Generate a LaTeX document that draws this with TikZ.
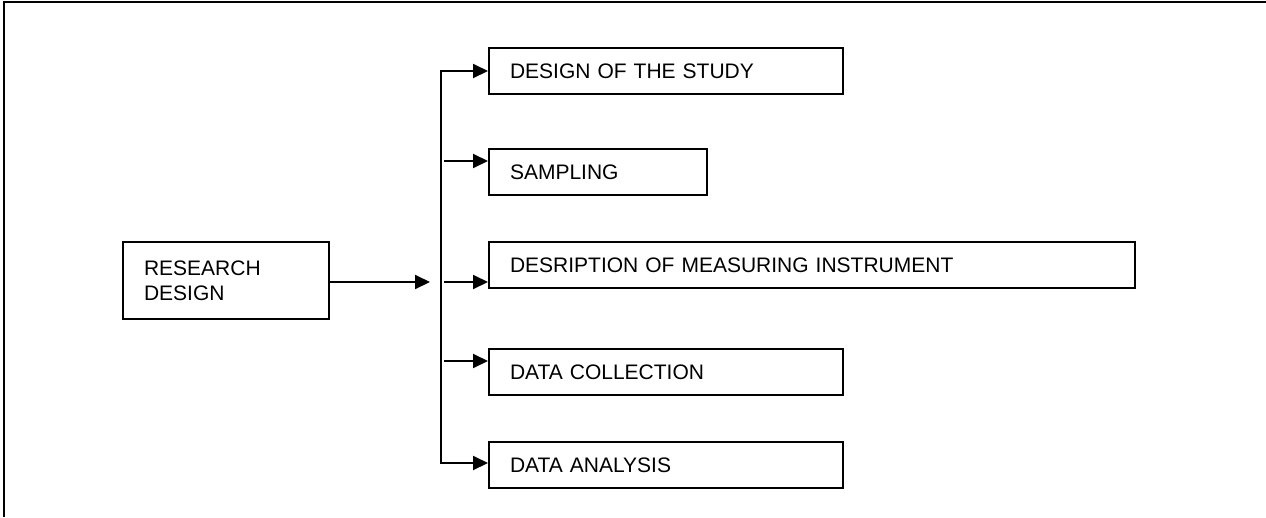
\documentclass[tikz,border=0pt]{standalone}
\usepackage{fontspec}
\setmainfont{Liberation Sans}
\usetikzlibrary{arrows.meta}
\tikzset{
  stage/.style={draw, line width=2pt, anchor=north west, minimum height=46pt,
    inner xsep=21pt, inner ysep=0pt, align=left,
    font=\fontsize{21}{25}\selectfont},
  link/.style={line width=2pt},
  arr/.style={link, -{Triangle[length=15pt,width=14pt]}},
}
\begin{document}
\begin{tikzpicture}[x=1pt,y=-1pt]
\useasboundingbox (0,0) rectangle (1266,517);
% page frame (top and left edges)
\coordinate (fl) at (3.5,517);
\coordinate (ft) at (3.5,1.5);
\coordinate (fr) at (1266,1.5);
\draw[line width=2pt] (fl) -- (ft) -- (fr);

% source box
\node[stage, text width=164pt, minimum height=77pt] (research) at (122,241)
  {RESEARCH\\DESIGN};

% target boxes
\node[stage, text width=312pt] (study)    at (488,47)  {DESIGN OF THE STUDY};
\node[stage, text width=176pt] (sampling) at (488,148) {SAMPLING};
\node[stage, text width=604pt] (instr)    at (488,241) {DESRIPTION OF MEASURING INSTRUMENT};
\node[stage, text width=312pt] (collect)  at (488,348) {DATA COLLECTION};
\node[stage, text width=312pt] (analysis) at (488,441) {DATA ANALYSIS};

% distribution bus
\coordinate (rin) at (430,282);
\coordinate (jt) at (441,71);
\coordinate (jb) at (441,463);
\coordinate (s2) at (444,161);
\coordinate (s3) at (444,282);
\coordinate (s4) at (444,361);

\draw[arr] (research.east |- rin) -- (rin);
\draw[link, line cap=rect] (jt) -- (jb);
\draw[arr] (jt) -- (jt -| study.west);
\draw[arr] (s2) -- (s2 -| sampling.west);
\draw[arr] (s3) -- (s3 -| instr.west);
\draw[arr] (s4) -- (s4 -| collect.west);
\draw[arr] (jb) -- (jb -| analysis.west);
\end{tikzpicture}
\end{document}
